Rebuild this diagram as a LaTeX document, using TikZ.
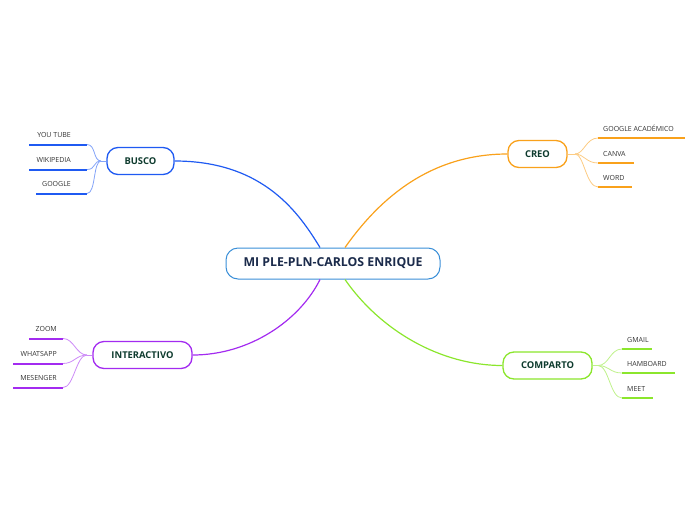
\documentclass[tikz,border=0pt]{standalone}
\usepackage{fontspec}
\setmainfont{Open Sans}
\definecolor{cblue}{HTML}{1F5AF2}
\definecolor{corange}{HTML}{F9A11B}
\definecolor{cpurple}{HTML}{A32BF0}
\definecolor{cgreen}{HTML}{8BE62C}
\definecolor{cmain}{HTML}{3A8FD8}
\definecolor{ctext}{HTML}{0E3B2E}
\definecolor{cmaintext}{HTML}{1B2B4B}
\definecolor{cleaf}{HTML}{333333}

\begin{document}
\begin{tikzpicture}[x=1pt,y=1pt,
  topic/.style={draw=cmain, line width=1pt, rounded corners=12pt, fill=white,
    minimum width=214pt, minimum height=31pt, text=cmaintext,
    font=\bfseries\fontsize{12.3}{14}\selectfont},
  branch/.style={draw=#1, line width=1.3pt, rounded corners=11pt, fill=white,
    minimum height=27pt, text=ctext, font=\bfseries\fontsize{9.4}{11}\selectfont},
  leaf/.style={text=cleaf, font=\fontsize{7}{8}\selectfont},
  leafline/.style={draw=#1, line width=2pt},
  twig/.style={draw=#1!55, line width=0.8pt},
  limb/.style={draw=#1, line width=1.2pt}]
\tikzstyle{every node}+=[inner sep=0pt]
\useasboundingbox (0,0) rectangle (696,-520);
% central topic
\node[topic] (main) at (333,-263.5) {MI PLE-PLN-CARLOS ENRIQUE};
% main branches
\node[branch=cblue, minimum width=67pt] (busco) at (140.5,-161) {BUSCO};
\node[branch=corange, minimum width=59pt] (creo) at (537.5,-154) {CREO};
\node[branch=cpurple, minimum width=99pt] (inter) at (142.5,-355) {INTERACTIVO};
\node[branch=cgreen, minimum width=89pt] (comp) at (547.5,-365.5) {COMPARTO};
\draw[limb=cblue] (busco.east) .. controls (265,-161) and (300,-215) .. (main.north west -| 320,0);
\draw[limb=corange] (main.north west -| 345,0) .. controls (375,-205) and (425,-154) .. (creo.west);
\draw[limb=cpurple] (main.south west -| 320,0) .. controls (300,-320) and (250,-355) .. (inter.east);
\draw[limb=cgreen] (main.south west -| 345,0) .. controls (380,-330) and (440,-365.5) .. (comp.west);
% BUSCO
\node[leaf, anchor=base east] (yt) at (71,-137.5) {YOU TUBE};
\node[leaf, anchor=base east] (wiki) at (71,-162.5) {WIKIPEDIA};
\node[leaf, anchor=base east] (goo) at (71,-186.5) {GOOGLE};
\coordinate (yt1) at (29,-144.5); \coordinate (yt2) at (87,-144.5);
\coordinate (wiki1) at (29,-169.5); \coordinate (wiki2) at (87,-169.5);
\coordinate (goo1) at (36,-193.5); \coordinate (goo2) at (87,-193.5);
\coordinate (buscoj) at (101,-161);
\draw[leafline=cblue] (yt1) -- (yt2);
\draw[leafline=cblue] (wiki1) -- (wiki2);
\draw[leafline=cblue] (goo1) -- (goo2);
\draw[twig=cblue] (yt2) .. controls (96,-144.5) and (93,-161) .. (buscoj);
\draw[twig=cblue] (wiki2) .. controls (96,-169.5) and (93,-161) .. (buscoj);
\draw[twig=cblue] (goo2) .. controls (96,-193.5) and (93,-161) .. (buscoj);
\draw[twig=cblue] (buscoj) -- (busco.west);
% CREO
\node[leaf, anchor=base west] (gac) at (603,-131) {GOOGLE ACADÉMICO};
\node[leaf, anchor=base west] (canva) at (603,-156) {CANVA};
\node[leaf, anchor=base west] (word) at (603,-180) {WORD};
\coordinate (gac1) at (598,-138); \coordinate (gac2) at (685,-138);
\coordinate (canva1) at (598,-163); \coordinate (canva2) at (634,-163);
\coordinate (word1) at (598,-187); \coordinate (word2) at (632,-187);
\coordinate (creoj) at (575,-154);
\draw[leafline=corange] (gac1) -- (gac2);
\draw[leafline=corange] (canva1) -- (canva2);
\draw[leafline=corange] (word1) -- (word2);
\draw[twig=corange] (creo.east) -- (creoj);
\draw[twig=corange] (creoj) .. controls (584,-154) and (586,-138) .. (gac1);
\draw[twig=corange] (creoj) .. controls (584,-154) and (586,-163) .. (canva1);
\draw[twig=corange] (creoj) .. controls (584,-154) and (586,-187) .. (word1);
% INTERACTIVO
\node[leaf, anchor=base east] (zoom) at (57,-331.5) {ZOOM};
\node[leaf, anchor=base east] (wapp) at (57,-356.5) {WHATSAPP};
\node[leaf, anchor=base east] (mes) at (57,-380.5) {MESENGER};
\coordinate (zoom1) at (29,-338.5); \coordinate (zoom2) at (63,-338.5);
\coordinate (wapp1) at (13,-363.5); \coordinate (wapp2) at (63,-363.5);
\coordinate (mes1) at (13,-387.5); \coordinate (mes2) at (63,-387.5);
\coordinate (interj) at (87,-355);
\draw[leafline=cpurple] (zoom1) -- (zoom2);
\draw[leafline=cpurple] (wapp1) -- (wapp2);
\draw[leafline=cpurple] (mes1) -- (mes2);
\draw[twig=cpurple] (zoom2) .. controls (74,-338.5) and (76,-355) .. (interj);
\draw[twig=cpurple] (wapp2) .. controls (74,-363.5) and (76,-355) .. (interj);
\draw[twig=cpurple] (mes2) .. controls (74,-387.5) and (76,-355) .. (interj);
\draw[twig=cpurple] (interj) -- (inter.west);
% COMPARTO
\node[leaf, anchor=base west] (gmail) at (627,-342) {GMAIL};
\node[leaf, anchor=base west] (hamb) at (627,-366) {HAMBOARD};
\node[leaf, anchor=base west] (meet) at (627,-391) {MEET};
\coordinate (gmail1) at (622,-349); \coordinate (gmail2) at (652,-349);
\coordinate (hamb1) at (622,-373); \coordinate (hamb2) at (675,-373);
\coordinate (meet1) at (622,-398); \coordinate (meet2) at (653,-398);
\coordinate (compj) at (598,-365.5);
\draw[leafline=cgreen] (gmail1) -- (gmail2);
\draw[leafline=cgreen] (hamb1) -- (hamb2);
\draw[leafline=cgreen] (meet1) -- (meet2);
\draw[twig=cgreen] (comp.east) -- (compj);
\draw[twig=cgreen] (compj) .. controls (609,-365.5) and (610,-349) .. (gmail1);
\draw[twig=cgreen] (compj) .. controls (609,-365.5) and (610,-373) .. (hamb1);
\draw[twig=cgreen] (compj) .. controls (609,-365.5) and (610,-398) .. (meet1);
\end{tikzpicture}
\end{document}
